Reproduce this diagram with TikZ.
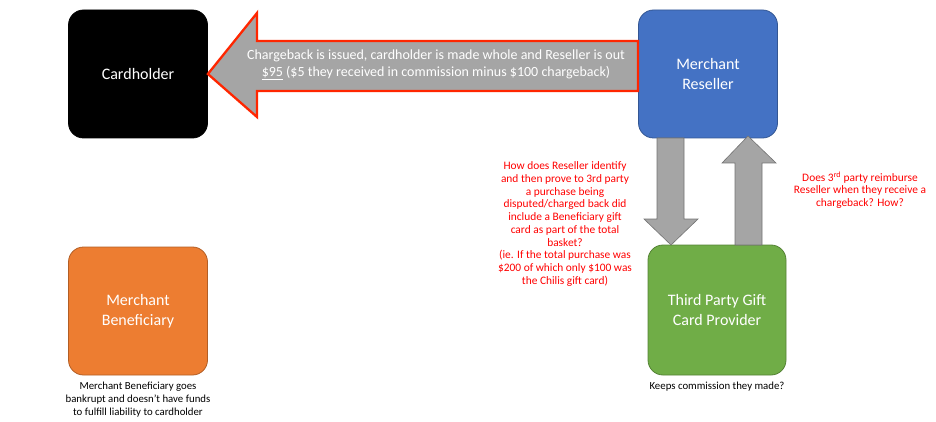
\documentclass[tikz,border=0pt]{standalone}
\usepackage{fontspec}
\setmainfont{Carlito}
\usepackage{tikz}
\usetikzlibrary{positioning}

\definecolor{holderblack}{HTML}{000000}
\definecolor{resellerblue}{HTML}{4472C4}
\definecolor{benefitorange}{HTML}{ED7D31}
\definecolor{providergreen}{HTML}{70AD47}
\definecolor{arrowgray}{HTML}{A5A5A5}
\definecolor{notered}{HTML}{FF0000}
\definecolor{outlinered}{HTML}{FF2600}

\begin{document}
\begin{tikzpicture}[x=1pt, y=-1pt,
	party/.style={rounded corners=15pt, minimum width=139pt, minimum height=128pt, align=center, text=white, font=\fontsize{16}{19.5}\selectfont, line width=0.8pt},
	flow/.style={fill=arrowgray, draw=arrowgray!70!black, line width=0.6pt},
	note/.style={align=center, font=\fontsize{10.8}{12.9}\selectfont},
	rednote/.style={note, text=notered, font=\fontsize{11.4}{12.7}\selectfont}]
	\useasboundingbox (0,0) rectangle (936,422);
	\node[party, fill=holderblack, draw=holderblack] (holder) at (138,74) {Cardholder};
	\node[party, fill=resellerblue, draw=resellerblue!75!black] (reseller) at (708,74) {Merchant\\Reseller};
	\node[party, fill=benefitorange, draw=benefitorange!75!black] (beneficiary) at (138,311) {Merchant\\Beneficiary};
	\node[party, minimum width=138pt, minimum height=130pt, fill=providergreen, draw=providergreen!75!black] (provider) at (717,310) {Third Party Gift\\Card Provider};
	% chargeback arrow
	\draw[fill=arrowgray, draw=outlinered, line width=2.3pt, line join=miter] (638,41) -- (257,41) -- (257,13) -- (holder.east) -- (257,117) -- (257,91) -- (638,91) -- cycle;
	\node[text=white, align=center, font=\fontsize{14}{17}\selectfont] (cbtext) at (436,65) {Chargeback is issued, cardholder is made whole and Reseller is out\\\underline{\$95} (\$5 they received in commission minus \$100 chargeback)};
	% reseller <-> provider
	\draw[flow] (657,138) -- (684,138) -- (684,219) -- (698,219) -- (671,245) -- (644,219) -- (657,219) -- cycle;
	\draw[flow] (735,245) -- (735,163) -- (722,163) -- (748,136) -- (776,163) -- (762,163) -- (762,245) -- cycle;
	\node[rednote] (proveq) at (565,224) {How does Reseller identify\\and then prove to 3rd party\\a purchase being\\disputed/charged back did\\include a Beneficiary gift\\card as part of the total\\basket?\\(ie. If the total purchase was\\\$200 of which only \$100 was\\the Chilis gift card)};
	\node[rednote] (reimburseq) at (860,190) {Does 3\textsuperscript{rd} party reimburse\\Reseller when they receive a\\chargeback? How?};
	\node[note, below=3pt of beneficiary] (bankrupt) {Merchant Beneficiary goes\\bankrupt and doesn’t have funds\\to fulfill liability to cardholder};
	\node[note, below=3pt of provider] (keeps) {Keeps commission they made?};
\end{tikzpicture}
\end{document}
